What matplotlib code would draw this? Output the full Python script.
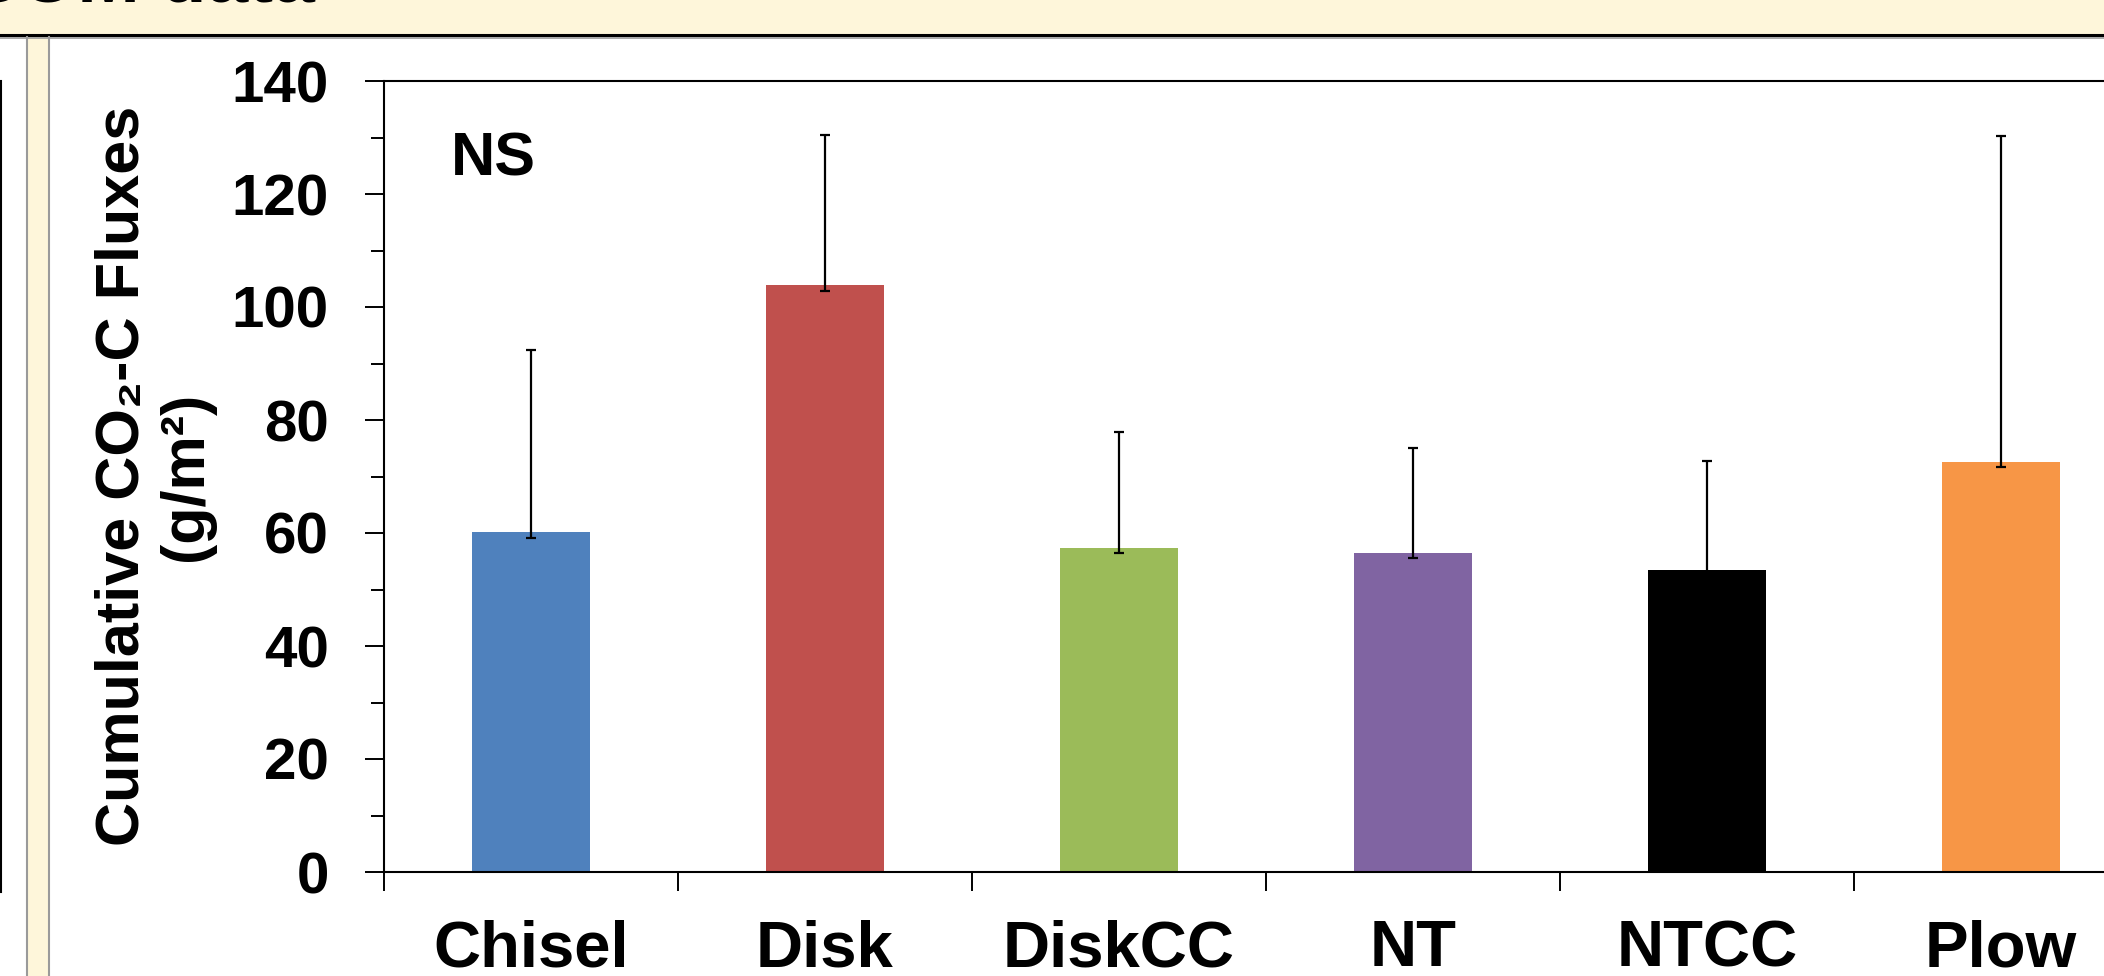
import matplotlib.pyplot as plt
import numpy as np
from matplotlib.patches import Rectangle
from matplotlib.lines import Line2D

# Cumulative CO2-C fluxes by tillage treatment
treatments = ['Chisel', 'Disk', 'DiskCC', 'NT', 'NTCC', 'Plow']
flux_mean = [60.2, 103.9, 57.3, 56.4, 53.4, 72.6]
# ends of the error whiskers
err_low = [59.1, 102.9, 56.5, 55.5, 52.8, 71.7]
err_high = [92.4, 130.5, 77.9, 75.1, 72.8, 130.3]
bar_colors = ['#4F81BD', '#C0504D', '#9BBB59', '#8064A2', '#000000', '#F79646']
y_ticks = [0, 20, 40, 60, 80, 100, 120, 140]

W, H = 2104, 976
fig = plt.figure(figsize=(W / 100, H / 100), dpi=100)
fam = ['Liberation Sans', 'DejaVu Sans']

# poster background bits around the chart
cream = '#FEF6DA'
fig.patches.append(Rectangle((0, 1 - 34 / H), 1, 34 / H, transform=fig.transFigure,
                             facecolor=cream, edgecolor='none', zorder=0))
fig.patches.append(Rectangle((27 / W, 0), 22 / W, 1 - 37 / H, transform=fig.transFigure,
                             facecolor=cream, edgecolor='none', zorder=0))
fig.lines.append(Line2D([0, 1], [1 - 35 / H] * 2, transform=fig.transFigure,
                        color='black', lw=2.2))
fig.lines.append(Line2D([0, 1], [1 - 37.5 / H] * 2, transform=fig.transFigure,
                        color='#9a9a9a', lw=1.2))
for xp in (27, 49):
    fig.lines.append(Line2D([xp / W] * 2, [0, 1 - 37 / H], transform=fig.transFigure,
                            color='#9a9a9a', lw=1.5))
fig.lines.append(Line2D([1 / W] * 2, [1 - 892 / H, 1 - 81 / H], transform=fig.transFigure,
                        color='black', lw=1.5))
# poster section heading, mostly cut off by the crop
fig.text(315 / W, 1 - 2 / H, 'SOM data', ha='right', va='baseline',
         fontsize=54, fontweight='bold', family=fam)

# main axes (runs off the right edge like the poster crop)
left, right, top, bottom = 384, 2148, 81, 872
ax = fig.add_axes([left / W, 1 - bottom / H, (right - left) / W, (bottom - top) / H])

x = np.arange(len(treatments))
ax.bar(x, flux_mean, width=0.4, color=bar_colors, zorder=2)
ax.errorbar(x, err_low, yerr=[np.zeros(len(x)), np.array(err_high) - np.array(err_low)],
            fmt='none', ecolor='black', elinewidth=1.6, capsize=3.6, capthick=1.6, zorder=3)

ax.set_xlim(-0.5, 5.5)
ax.set_ylim(0, 140)
ax.set_yticks(y_ticks)
ax.set_yticks(np.arange(0, 141, 10), minor=True)
ax.set_yticklabels([str(v) for v in y_ticks], fontsize=42, fontweight='bold', family=fam)
ax.tick_params(axis='y', which='major', direction='out', length=13.7, width=1.4, pad=26)
ax.tick_params(axis='y', which='minor', direction='out', length=9.4, width=1.4)

# boundary ticks between categories, labels at centres
ax.set_xticks(np.arange(-0.5, 6, 1))
ax.set_xticklabels([])
ax.set_xticks(x, minor=True)
ax.set_xticklabels(treatments, minor=True, fontsize=47, fontweight='bold', family=fam)
ax.tick_params(axis='x', which='major', direction='out', length=13.7, width=1.4)
ax.tick_params(axis='x', which='minor', length=0, pad=34)

ax.spines['right'].set_visible(False)
for s in ('left', 'top', 'bottom'):
    ax.spines[s].set_linewidth(1.5)

fig.text(155 / W, 1 - 476 / H, 'Cumulative CO\u2082-C Fluxes\n(g/m\u00b2)', rotation=90,
         ha='center', va='center', multialignment='center', linespacing=1.15,
         fontsize=44, fontweight='bold', family=fam)

ax.text(451 / W, 1 - 175 / H, 'NS', transform=fig.transFigure, ha='left', va='baseline',
        fontsize=44, fontweight='bold', family=fam)

fig.savefig('out.png', dpi=100)
